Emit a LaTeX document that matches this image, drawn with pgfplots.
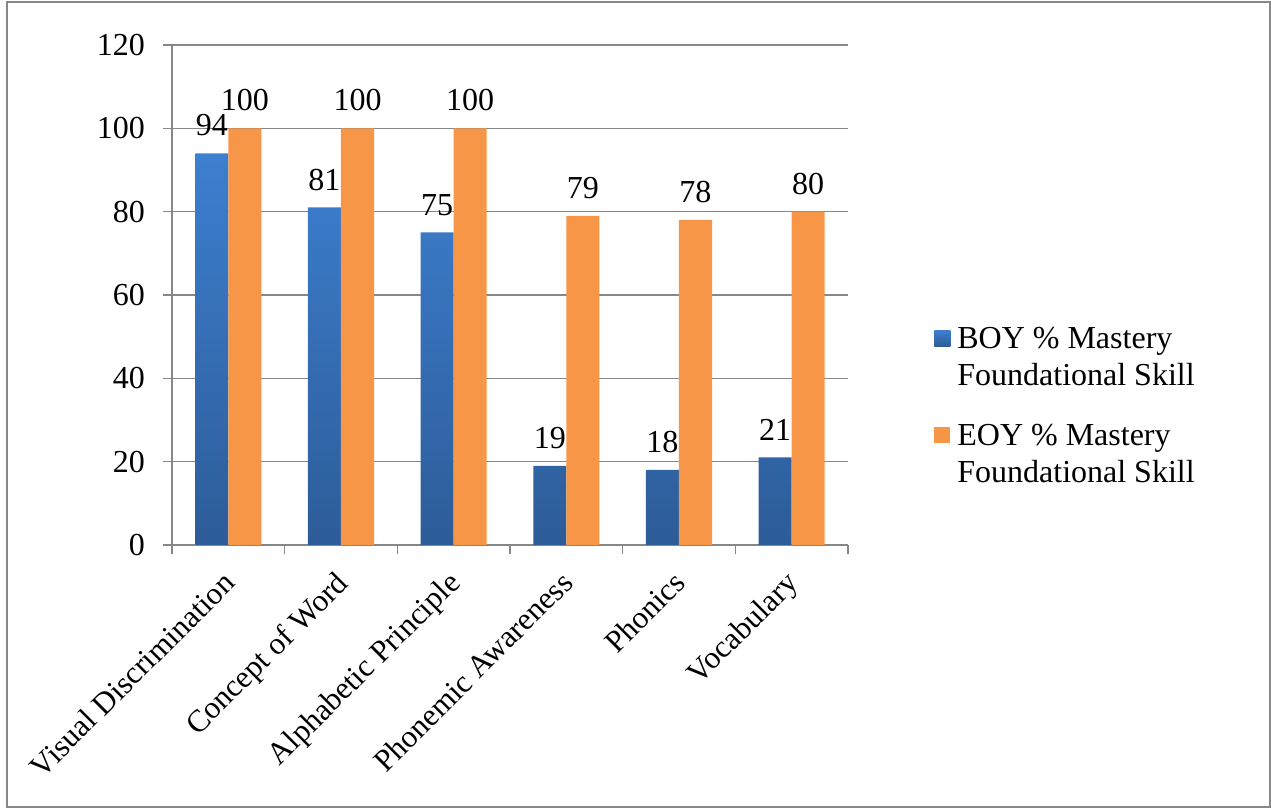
\documentclass[border=0pt]{standalone}
\usepackage{fontspec}
\setmainfont{Liberation Serif}
\usepackage{pgfplots}
\pgfplotsset{compat=1.18}
\definecolor{boyTop}{HTML}{3D7FD0}
\definecolor{boyBot}{HTML}{2D5C98}
\definecolor{eoy}{HTML}{F79646}
\definecolor{gridc}{HTML}{878787}
\newcommand\cf{\fontsize{16}{18.5}\selectfont}
\newcommand\xf{\fontsize{15.6}{18.5}\selectfont}
\begin{document}
\begin{tikzpicture}
\path[use as bounding box] (-86pt,-131.5pt) rectangle (549.5pt,272.5pt);
\draw[gridc, line width=0.75pt] (-82.5pt,-131pt) rectangle (549pt,271.5pt);
\begin{axis}[
  scale only axis, width=338pt, height=250pt,
  at={(0pt,0pt)}, anchor=south west,
  ybar=0pt, bar width=0.293,
  xmin=-0.5, xmax=5.5, ymin=0, ymax=120,
  ytick={0,20,...,120},
  xtick={0,...,5},
  xticklabels={Visual Discrimination, Concept of Word, Alphabetic Principle, Phonemic Awareness, Phonics, Vocabulary},
  minor xtick={-0.5,0.5,...,5.5},
  axis lines=left, axis line style={-, gridc, line width=0.75pt},
  ymajorgrids, grid style={gridc, line width=0.75pt},
  tick align=outside, major tick length=4.5pt, minor tick length=4.5pt,
  tick style={gridc, line width=0.75pt},
  major x tick style={draw=none},
  /pgf/number format/assume math mode=true,
  yticklabel style={font=\cf, xshift=-5.5pt},
  xticklabel style={font=\xf, rotate=45, anchor=north east, xshift=-4.5pt, yshift=0.5pt},
  nodes near coords,
  every node near coord/.append style={font=\cf, yshift=5pt, black},
  legend cell align=left,
  legend style={draw=none, fill=none, font=\cf, at={(1.1272,0.446)}, anchor=north west,
    inner sep=0pt, row sep=34pt, column sep=3.5pt, nodes={inner sep=0pt}},
  legend image code/.code={\path[#1] (0pt,-4.75pt) rectangle (8pt,3.25pt);},
]
\addplot[draw=none, top color=boyTop, bottom color=boyBot] coordinates {(0,94) (1,81) (2,75) (3,19) (4,18) (5,21)};
\addlegendentry{\begin{tabular}[t]{@{}l@{}}BOY \% Mastery\\Foundational Skill\end{tabular}}
\addplot[draw=none, fill=eoy] coordinates {(0,100) (1,100) (2,100) (3,79) (4,78) (5,80)};
\addlegendentry{\begin{tabular}[t]{@{}l@{}}EOY \% Mastery\\Foundational Skill\end{tabular}}
\end{axis}
\end{tikzpicture}
\end{document}
